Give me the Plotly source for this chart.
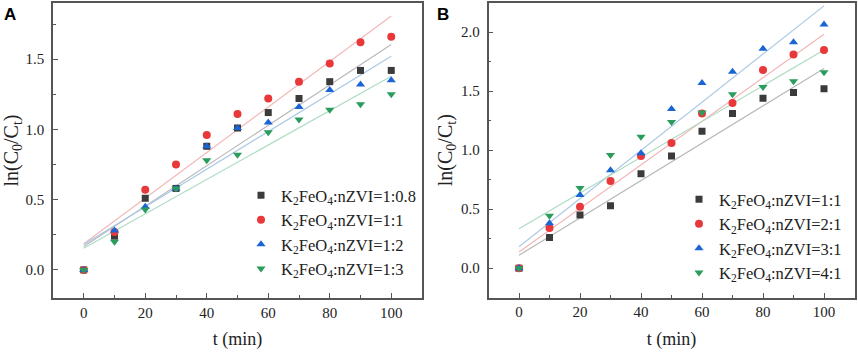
import numpy as np
import plotly.graph_objects as go

t = [0, 10, 20, 30, 40, 50, 60, 70, 80, 90, 100]

# Panel A
a_names = ["K<sub>2</sub>FeO<sub>4</sub>:nZVI=1:0.8", "K<sub>2</sub>FeO<sub>4</sub>:nZVI=1:1",
           "K<sub>2</sub>FeO<sub>4</sub>:nZVI=1:2", "K<sub>2</sub>FeO<sub>4</sub>:nZVI=1:3"]
a_s1 = [0, 0.24, 0.51, 0.58, 0.88, 1.01, 1.12, 1.22, 1.34, 1.42, 1.42]
a_s2 = [0, 0.27, 0.57, 0.75, 0.96, 1.11, 1.22, 1.34, 1.47, 1.62, 1.66]
a_s3 = [0, 0.28, 0.45, 0.58, 0.88, 1.01, 1.05, 1.16, 1.28, 1.32, 1.35]
a_s4 = [0, 0.20, 0.43, 0.58, 0.78, 0.82, 0.98, 1.07, 1.14, 1.18, 1.25]

# Panel B
b_names = ["K<sub>2</sub>FeO<sub>4</sub>:nZVI=1:1", "K<sub>2</sub>FeO<sub>4</sub>:nZVI=2:1",
           "K<sub>2</sub>FeO<sub>4</sub>:nZVI=3:1", "K<sub>2</sub>FeO<sub>4</sub>:nZVI=4:1"]
b_s1 = [0, 0.26, 0.45, 0.53, 0.80, 0.95, 1.16, 1.31, 1.44, 1.49, 1.52]
b_s2 = [0, 0.34, 0.52, 0.74, 0.95, 1.06, 1.31, 1.40, 1.68, 1.81, 1.85]
b_s3 = [0, 0.38, 0.62, 0.83, 0.975, 1.35, 1.57, 1.665, 1.86, 1.915, 2.065]
b_s4 = [0, 0.445, 0.68, 0.96, 1.115, 1.24, 1.32, 1.475, 1.535, 1.585, 1.66]

x_ticks = [0, 20, 40, 60, 80, 100]

marker_colors = ["#3b3b3b", "#e8383a", "#1a64d4", "#2a9d5c"]
line_colors = ["#b9b9b9", "#f3b8b8", "#aac9e6", "#acdcc2"]
symbols = ["square", "circle", "triangle-up", "triangle-down"]
sizes = [7, 8, 8, 8]

SERIF = "Liberation Serif, Times New Roman, serif"

fig = go.Figure()

def add_panel(series, names, xa, ya, legend):
    for i, (ys, nm) in enumerate(zip(series, names)):
        k, b = np.polyfit(t, ys, 1)
        xf = np.array([t[0], t[-1]], dtype=float)
        fig.add_trace(go.Scatter(x=xf, y=k * xf + b, mode="lines",
                                 line=dict(color=line_colors[i], width=1.2),
                                 showlegend=False, hoverinfo="skip",
                                 xaxis=xa, yaxis=ya))
    for i, (ys, nm) in enumerate(zip(series, names)):
        fig.add_trace(go.Scatter(x=t, y=ys, mode="markers", name=nm,
                                 marker=dict(symbol=symbols[i], size=sizes[i],
                                             color=marker_colors[i]),
                                 xaxis=xa, yaxis=ya, legend=legend))

add_panel([a_s1, a_s2, a_s3, a_s4], a_names, "x", "y", "legend")
add_panel([b_s1, b_s2, b_s3, b_s4], b_names, "x2", "y2", "legend2")

W, H = 858, 352

def xax(dom):
    return dict(domain=dom, range=[-10, 110], tickvals=x_ticks, ticks="inside",
                ticklen=5, tickwidth=1.2, tickcolor="#555", automargin=False,
                minor=dict(dtick=10, tick0=0, ticks="inside", ticklen=3, tickcolor="#555"),
                showline=True, linecolor="#555", linewidth=1.5, mirror=True,
                showgrid=False, zeroline=False,
                tickfont=dict(family=SERIF, size=15, color="#222"),
                title=dict(text="t (min)", font=dict(family=SERIF, size=18, color="#222"), standoff=13))

def yax(dom, rng, anchor):
    return dict(domain=dom, range=rng, dtick=0.5, tick0=0, tickformat=".1f", ticks="inside",
                ticklen=5, tickwidth=1.2, tickcolor="#555", automargin=False,
                ticklabelstandoff=4,
                minor=dict(dtick=0.25, tick0=0, ticks="inside", ticklen=3, tickcolor="#555"),
                showline=True, linecolor="#555", linewidth=1.5, mirror=True,
                showgrid=False, zeroline=False, anchor=anchor,
                tickfont=dict(family=SERIF, size=15, color="#222"),
                title=dict(text="ln(C<sub>0</sub>/C<sub>t</sub>)",
                           font=dict(family=SERIF, size=20, color="#222"), standoff=3))

xa1 = xax([53 / W, 422 / W]); xa1["anchor"] = "y"
xa2 = xax([488.5 / W, 854.5 / W]); xa2["anchor"] = "y2"

fig.update_layout(
    width=W, height=H,
    margin=dict(l=0, r=0, t=0, b=0, autoexpand=False),
    paper_bgcolor="white", plot_bgcolor="white",
    xaxis=xa1, xaxis2=xa2,
    yaxis=yax([1 - 298 / H, 1 - 3 / H], [-0.2, 1.9], "x"),
    yaxis2=yax([1 - 297.7 / H, 1 - 2.7 / H], [-0.25, 2.25], "x2"),
    legend=dict(x=241 / W, y=1 - 178 / H, xanchor="left", yanchor="top",
                bgcolor="rgba(0,0,0,0)", font=dict(family=SERIF, size=16.5, color="#222"),
                itemwidth=30, tracegroupgap=0),
    legend2=dict(x=679 / W, y=1 - 182 / H, xanchor="left", yanchor="top",
                 bgcolor="rgba(0,0,0,0)", font=dict(family=SERIF, size=16.5, color="#222"),
                 itemwidth=30, tracegroupgap=0),
    annotations=[
        dict(text="<b>A</b>", x=2 / W, y=1 - 3 / H, xref="paper", yref="paper",
             xanchor="left", yanchor="top", showarrow=False,
             font=dict(family="Liberation Sans, Arial, sans-serif", size=17, color="#000")),
        dict(text="<b>B</b>", x=435 / W, y=1 - 3 / H, xref="paper", yref="paper",
             xanchor="left", yanchor="top", showarrow=False,
             font=dict(family="Liberation Sans, Arial, sans-serif", size=17, color="#000")),
    ],
    showlegend=True,
)

fig.write_html("out.html", config={"displayModeBar": False},
               post_script="document.body.style.margin='0';document.body.style.overflow='hidden';")
